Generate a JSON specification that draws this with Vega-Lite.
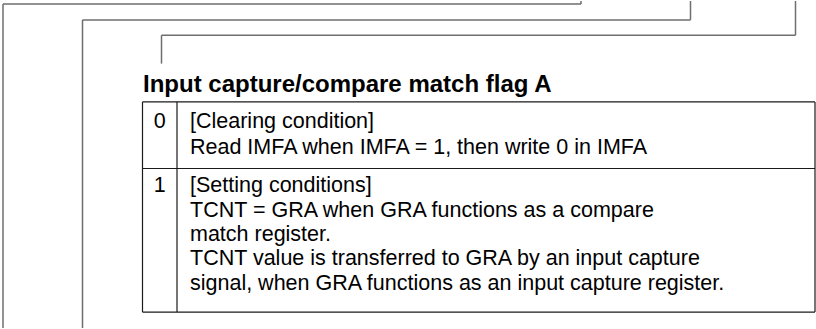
{
  "$schema": "https://vega.github.io/schema/vega-lite/v6.json",
  "width": 816,
  "height": 329,
  "padding": 0,
  "autosize": {"type": "fit", "contains": "padding"},
  "background": "white",
  "config": {"view": {"stroke": null}},
  "datasets": {
    "brackets": [
      {"x": 581, "y": 0, "x2": 581, "y2": 3},
      {"x": 3, "y": 3, "x2": 581, "y2": 3},
      {"x": 3, "y": 3, "x2": 3, "y2": 329},
      {"x": 690.5, "y": 0, "x2": 690.5, "y2": 19},
      {"x": 82.5, "y": 19, "x2": 690.5, "y2": 19},
      {"x": 82.5, "y": 19, "x2": 82.5, "y2": 329},
      {"x": 795.5, "y": 0, "x2": 795.5, "y2": 34.5},
      {"x": 161.5, "y": 34.5, "x2": 795.5, "y2": 34.5},
      {"x": 161.5, "y": 34.5, "x2": 161.5, "y2": 63}
    ],
    "table": [
      {"x": 142.5, "y": 101.5, "x2": 815, "y2": 101.5},
      {"x": 142.5, "y": 168.5, "x2": 815, "y2": 168.5},
      {"x": 142.5, "y": 313, "x2": 815, "y2": 313},
      {"x": 142.5, "y": 101.5, "x2": 142.5, "y2": 313},
      {"x": 177, "y": 101.5, "x2": 177, "y2": 313},
      {"x": 815, "y": 101.5, "x2": 815, "y2": 313}
    ],
    "title": [
      {"x": 143, "y": 91.5, "t": "Input capture/compare match flag A"}
    ],
    "nums": [
      {"x": 159.75, "y": 127.5, "t": "0"},
      {"x": 159.75, "y": 192.5, "t": "1"}
    ],
    "body": [
      {"x": 190, "y": 127.5, "t": "[Clearing condition]"},
      {"x": 190, "y": 153.5, "t": "Read IMFA when IMFA = 1, then write 0 in IMFA"},
      {"x": 190, "y": 192.5, "t": "[Setting conditions]"},
      {"x": 190, "y": 217, "t": "TCNT = GRA when GRA functions as a compare"},
      {"x": 190, "y": 241.5, "t": "match register."},
      {"x": 190, "y": 266, "t": "TCNT value is transferred to GRA by an input capture"},
      {"x": 190, "y": 290.5, "t": "signal, when GRA functions as an input capture register."}
    ]
  },
  "encoding": {
    "x": {"field": "x", "type": "quantitative", "axis": null, "scale": {"domain": [0, 816], "nice": false, "zero": false}},
    "y": {"field": "y", "type": "quantitative", "axis": null, "scale": {"domain": [0, 329], "nice": false, "zero": false, "reverse": true}}
  },
  "layer": [
    {
      "data": {"name": "brackets"},
      "mark": {"type": "rule", "color": "#6e6e6e", "strokeWidth": 1.5},
      "encoding": {"x2": {"field": "x2"}, "y2": {"field": "y2"}}
    },
    {
      "data": {"name": "table"},
      "mark": {"type": "rule", "color": "#1a1a1a", "strokeWidth": 1.2},
      "encoding": {"x2": {"field": "x2"}, "y2": {"field": "y2"}}
    },
    {
      "data": {"name": "title"},
      "mark": {"type": "text", "align": "left", "baseline": "alphabetic", "font": "Liberation Sans", "fontSize": 24, "fontWeight": "bold", "color": "#000"},
      "encoding": {"text": {"field": "t"}}
    },
    {
      "data": {"name": "nums"},
      "mark": {"type": "text", "align": "center", "baseline": "alphabetic", "font": "Liberation Sans", "fontSize": 21.5, "color": "#000"},
      "encoding": {"text": {"field": "t"}}
    },
    {
      "data": {"name": "body"},
      "mark": {"type": "text", "align": "left", "baseline": "alphabetic", "font": "Liberation Sans", "fontSize": 21.5, "color": "#000"},
      "encoding": {"text": {"field": "t"}}
    }
  ]
}
